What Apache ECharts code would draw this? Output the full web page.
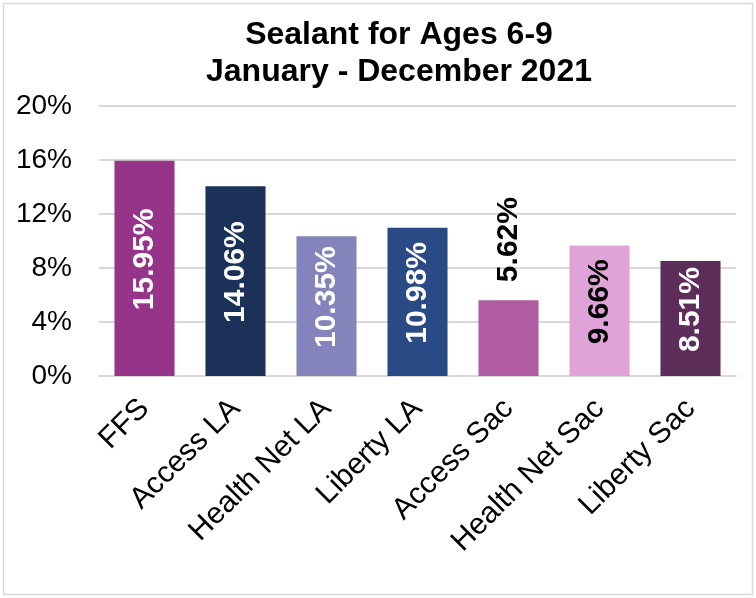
<!DOCTYPE html>
<html>
<head>
<meta charset="utf-8">
<script src="https://cdn.jsdelivr.net/npm/echarts@6/dist/echarts.min.js"></script>
<style>
html,body{margin:0;padding:0;background:#fff;}
#c{width:756px;height:598px;}
</style>
</head>
<body>
<div id="c"></div>
<script>
const titleLines = ['Sealant for Ages 6-9', 'January - December 2021'];
const categories = ['FFS', 'Access LA', 'Health Net LA', 'Liberty LA', 'Access Sac', 'Health Net Sac', 'Liberty Sac'];
const values = [15.95, 14.06, 10.35, 10.98, 5.62, 9.66, 8.51];
const barColors = ['#963489', '#1b3158', '#8583bc', '#2a4a85', '#b05ca3', '#e0a3d8', '#5c2d58'];
const labelColors = ['#ffffff', '#ffffff', '#ffffff', '#ffffff', '#000000', '#000000', '#ffffff'];
const labelOutside = [false, false, false, false, true, false, false];
const yMin = 0, yMax = 20, yStep = 4;

const font = '"Liberation Sans", Arial, sans-serif';

const data = values.map((v, i) => ({
  value: v,
  itemStyle: { color: barColors[i] },
  label: labelOutside[i] ? {
    position: 'top', rotate: 90, align: 'left', verticalAlign: 'middle', distance: 18, color: labelColors[i]
  } : {
    position: 'inside', rotate: 90, align: 'center', verticalAlign: 'middle', color: labelColors[i], offset: [9, 0]
  }
}));

const chart = echarts.init(document.getElementById('c'), null, { renderer: 'canvas' });
chart.setOption({
  backgroundColor: '#ffffff',
  animation: false,
  title: {
    text: titleLines.join('\n'),
    left: 394,
    top: 12,
    textAlign: 'center',
    textStyle: { fontFamily: font, fontSize: 32, fontWeight: 'bold', color: '#000', lineHeight: 37 }
  },
  graphic: [{
    type: 'rect',
    shape: { x: 3.5, y: 3.5, width: 749, height: 591 },
    style: { fill: 'none', stroke: '#d9d9d9', lineWidth: 1.5 },
    silent: true
  }],
  grid: { left: 99, right: 20, top: 106, bottom: 222, containLabel: false },
  xAxis: {
    type: 'category',
    data: categories,
    axisLine: { show: true, lineStyle: { color: '#d9d9d9', width: 2 } },
    axisTick: { show: false },
    axisLabel: { rotate: 45, margin: 28, interval: 0, fontFamily: font, fontSize: 30, color: '#000' }
  },
  yAxis: {
    type: 'value',
    min: yMin, max: yMax, interval: yStep,
    axisLine: { show: false },
    axisTick: { show: false },
    splitLine: { lineStyle: { color: '#d9d9d9', width: 2 } },
    axisLabel: { margin: 27, fontFamily: font, fontSize: 28, color: '#000', formatter: v => v + '%' }
  },
  series: [{
    type: 'bar',
    data: data,
    barWidth: '66%',
    label: {
      show: true,
      fontFamily: font,
      fontSize: 30,
      fontWeight: 'bold',
      formatter: p => p.value.toFixed(2) + '%'
    }
  }]
});
</script>
</body>
</html>
